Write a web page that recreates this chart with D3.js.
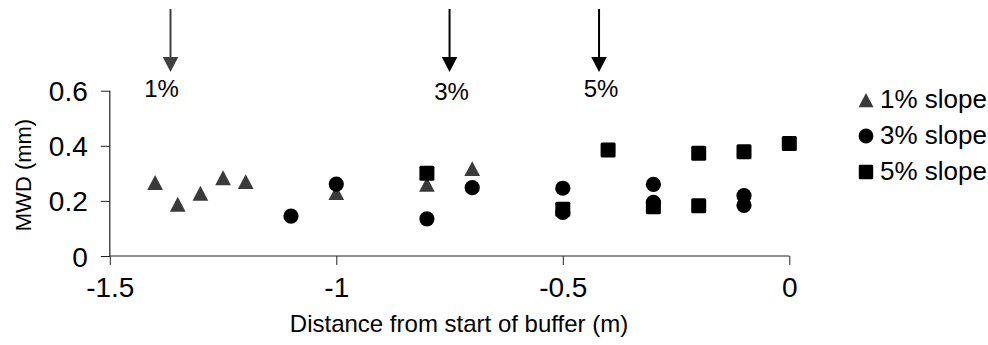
<!DOCTYPE html>
<html>
<head>
<meta charset="utf-8">
<script src="https://cdn.jsdelivr.net/npm/d3@7"></script>
<style>
  body { margin: 0; background: #fff; }
  text { font-family: Arial, "Liberation Sans", sans-serif; fill: #000; }
</style>
</head>
<body>
<script>
// series values
const slope1X = [-1.4, -1.35, -1.3, -1.25, -1.2, -1.0, -0.8, -0.7];
const slope1Y = [0.267, 0.188, 0.228, 0.284, 0.27, 0.23, 0.26, 0.317];
const slope3X = [-1.1, -1.0, -0.8, -0.7, -0.5, -0.5, -0.3, -0.3, -0.1, -0.1];
const slope3Y = [0.145, 0.261, 0.135, 0.248, 0.246, 0.158, 0.26, 0.195, 0.219, 0.184];
const slope5X = [-0.8, -0.5, -0.4, -0.3, -0.2, -0.2, -0.1, 0];
const slope5Y = [0.30, 0.17, 0.385, 0.179, 0.373, 0.182, 0.378, 0.408];

const seriesNames = ['1% slope', '3% slope', '5% slope'];
const xTicks = [-1.5, -1, -0.5, 0];
const xTickLabels = ['-1.5', '-1', '-0.5', '0'];
const yTicks = [0, 0.2, 0.4, 0.6];
const yTickLabels = ['0', '0.2', '0.4', '0.6'];

// arrows marking where each buffer starts
const arrowX = [-1.366, -0.75, -0.42];
const arrowLabels = ['1%', '3%', '5%'];

const width = 988, height = 345;
const margin = { left: 109.8, right: 198.7, top: 90.7, bottom: 89 };

const x = d3.scaleLinear().domain([-1.5, 0]).range([margin.left, width - margin.right]);
const y = d3.scaleLinear().domain([0, 0.6]).range([height - margin.bottom, margin.top]);

const svg = d3.select('body').append('svg')
  .attr('width', width)
  .attr('height', height);

// triangle centred on its bounding box, like the spreadsheet marker
const tri = {
  draw(ctx, size) {
    const w = Math.sqrt(size), h = w * 0.95;
    ctx.moveTo(0, -h / 2);
    ctx.lineTo(w / 2, h / 2);
    ctx.lineTo(-w / 2, h / 2);
    ctx.closePath();
  }
};

// axes
const xAxis = svg.append('g')
  .attr('transform', `translate(0,${y(0)})`)
  .call(d3.axisBottom(x).tickValues(xTicks)
    .tickFormat((d, i) => xTickLabels[i]).tickSize(9).tickPadding(12));
const yAxis = svg.append('g')
  .attr('transform', `translate(${x(-1.5)},0)`)
  .call(d3.axisLeft(y).tickValues(yTicks)
    .tickFormat((d, i) => yTickLabels[i]).tickSize(9).tickPadding(13));

[xAxis, yAxis].forEach(g => {
  g.select('.domain').attr('stroke', '#222').attr('stroke-width', 1.2);
  g.selectAll('.tick line').attr('stroke', '#222').attr('stroke-width', 1);
  g.selectAll('.tick text')
    .style('font-family', 'Arial, "Liberation Sans", sans-serif')
    .style('font-size', '28px')
    .attr('fill', '#000');
});
xAxis.selectAll('.tick text').attr('dy', '0.71em');
yAxis.selectAll('.tick text').attr('dy', '0.36em');
xAxis.select('.domain').attr('d', `M${x(-1.5)},0H${x(0)}`);
yAxis.select('.domain').attr('d', `M0,${y(0.6)}V${y(0)}`);

// axis titles
svg.append('text')
  .attr('x', 459).attr('y', 332)
  .attr('text-anchor', 'middle')
  .style('font-size', '24px')
  .text('Distance from start of buffer (m)');

svg.append('text')
  .attr('transform', 'translate(31,175) rotate(-90)')
  .attr('text-anchor', 'middle')
  .style('font-size', '22px')
  .text('MWD (mm)');

// arrows
const arrowColor = ['#404040', '#000', '#000'];
const labelDx = [-9, 2, 2];
const labelY = [97, 100, 97];
arrowX.forEach((v, i) => {
  const ax = x(v);
  svg.append('line')
    .attr('x1', ax).attr('x2', ax)
    .attr('y1', 9).attr('y2', 58)
    .attr('stroke', arrowColor[i]).attr('stroke-width', 2);
  svg.append('path')
    .attr('d', `M${ax - 7.8},57L${ax + 7.8},57L${ax},72Z`)
    .attr('fill', arrowColor[i]);
  svg.append('text')
    .attr('x', ax + labelDx[i]).attr('y', labelY[i])
    .attr('text-anchor', 'middle')
    .style('font-size', '24px')
    .text(arrowLabels[i]);
});

// markers
const plot = svg.append('g');
const triColor = '#3a3a3a';

plot.selectAll('.s1')
  .data(d3.zip(slope1X, slope1Y))
  .join('path')
  .attr('class', 's1')
  .attr('transform', d => `translate(${x(d[0])},${y(d[1])})`)
  .attr('d', d3.symbol().type(tri).size(15.7 * 15.7))
  .attr('fill', triColor);

plot.selectAll('.s3')
  .data(d3.zip(slope3X, slope3Y))
  .join('path')
  .attr('class', 's3')
  .attr('transform', d => `translate(${x(d[0])},${y(d[1])})`)
  .attr('d', d3.symbol().type(d3.symbolCircle).size(Math.PI * 7.6 * 7.6))
  .attr('fill', '#000');

plot.selectAll('.s5')
  .data(d3.zip(slope5X, slope5Y))
  .join('rect')
  .attr('class', 's5')
  .attr('x', d => x(d[0]) - 7.5)
  .attr('y', d => y(d[1]) - 7.5)
  .attr('width', 15).attr('height', 15)
  .attr('rx', 1.5)
  .attr('fill', '#000');

// legend
const legend = svg.append('g').attr('transform', 'translate(866,0)');
const rowY = [100, 136, 172];
seriesNames.forEach((name, i) => {
  const g = legend.append('g').attr('transform', `translate(0,${rowY[i]})`);
  if (i === 0) {
    g.append('path').attr('d', d3.symbol().type(tri).size(15 * 15)).attr('fill', triColor);
  } else if (i === 1) {
    g.append('path').attr('d', d3.symbol().type(d3.symbolCircle).size(Math.PI * 7.4 * 7.4)).attr('fill', '#000');
  } else {
    g.append('rect').attr('x', -7.2).attr('y', -7.2).attr('width', 14.4).attr('height', 14.4).attr('rx', 1.2).attr('fill', '#000');
  }
  g.append('text')
    .attr('x', 14).attr('y', 7.5)
    .style('font-size', '26px')
    .text(name);
});
</script>
</body>
</html>
